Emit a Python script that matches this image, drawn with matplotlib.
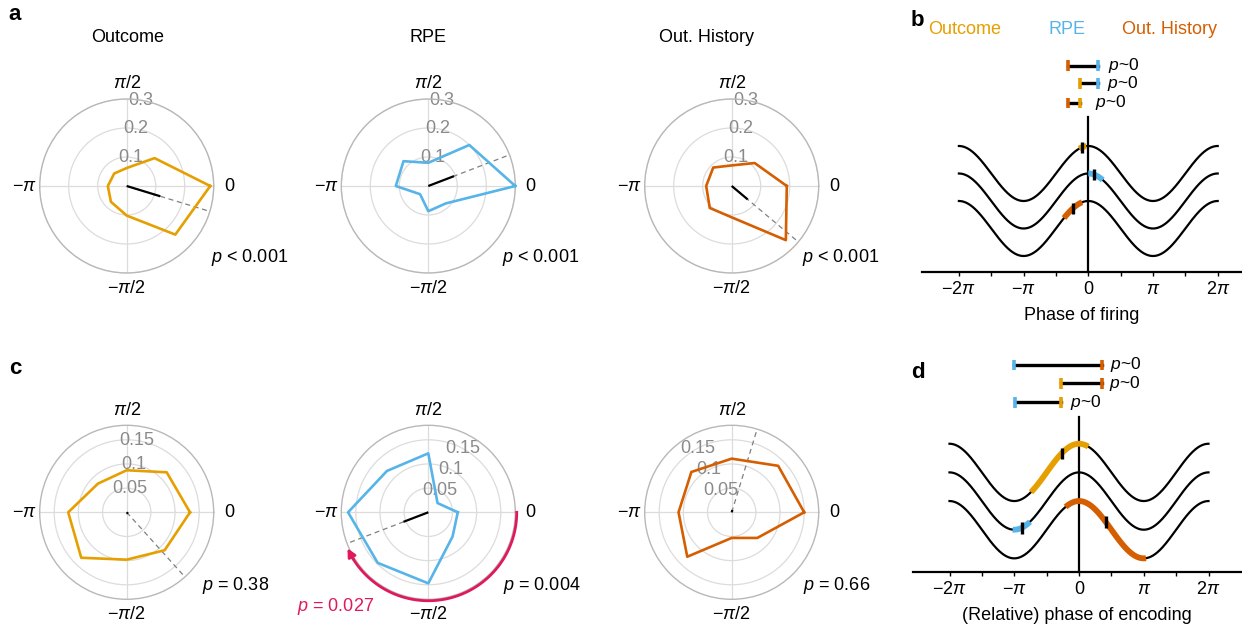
import numpy as np
import matplotlib.pyplot as plt

plt.rcParams['font.family'] = ['Liberation Sans', 'DejaVu Sans']
plt.rcParams['mathtext.fontset'] = 'custom'
plt.rcParams['mathtext.rm'] = 'Liberation Sans'
plt.rcParams['mathtext.it'] = 'Liberation Sans:italic'
plt.rcParams['mathtext.bf'] = 'Liberation Sans:bold'

W, H = 1242, 625
C_OUT, C_RPE, C_HIST, C_RED = '#E69F00', '#56B4E9', '#D55E00', '#E0195A'

# ---------------- data ----------------
bin_deg = [0, 45, 90, 135, 180, 225, 270, 315]

a_outcome = [0.288, 0.136, 0.062, 0.061, 0.065, 0.077, 0.102, 0.237]
a_rpe = [0.300, 0.200, 0.080, 0.121, 0.112, 0.040, 0.087, 0.085]
a_hist = [0.190, 0.112, 0.071, 0.090, 0.088, 0.107, 0.108, 0.264]
c_outcome = [0.131, 0.117, 0.087, 0.084, 0.121, 0.133, 0.098, 0.111]
c_rpe = [0.061, 0.027, 0.122, 0.121, 0.166, 0.148, 0.147, 0.071]
c_hist = [0.150, 0.136, 0.111, 0.118, 0.110, 0.130, 0.053, 0.075]

# mean vectors (angle in degrees, length)
a_mean = [(-17, 0.121), (21, 0.095), (-40, 0.072)]
c_mean = [(-48, 0.004), (-159, 0.055), (73, 0.005)]

a_rticks = [0.1, 0.2, 0.3]
a_rlabels = ['0.1', '0.2', '0.3']
c_rticks = [0.05, 0.1, 0.15]
c_rlabels = ['0.05', '0.1', '0.15']

theta_labels = ['0', r'$\pi$/2', '\u2212$\\pi$', '\u2212$\\pi$/2']
a_pvals = ['$p$ < 0.001', '$p$ < 0.001', '$p$ < 0.001']
c_pvals = ['$p$ = 0.38', '$p$ = 0.004', '$p$ = 0.66']
rpe_shift_p = '$p$ = 0.027'
rpe_shift_deg = [0, -156]

series_names = ['Outcome', 'RPE', 'Out. History']

# panel b: coloured segment ranges on each wave (rad), preferred phase ticks, comparison bars
b_segments = [(-0.44, -0.10), (0.0, 0.70), (-1.18, -0.30)]
b_phase = [-0.32, 0.28, -0.73]
b_bars = [(-0.97, 0.49), (-0.40, 0.49), (-0.97, -0.40)]
b_bar_cols = [(C_HIST, C_RPE), (C_OUT, C_RPE), (C_HIST, C_OUT)]
b_bar_y = [5.92, 5.28, 4.57]
b_ptext_x = [0.96, 0.89, 0.33]

# panel d
d_segments = [(-2.33, 0.45), (-3.22, -2.38), (-0.65, 3.25)]
d_phase = [-0.84, -2.78, 1.30]
d_bars = [(-3.14, 1.13), (-0.89, 1.13), (-3.11, -0.89)]
d_bar_cols = [(C_RPE, C_HIST), (C_OUT, C_HIST), (C_RPE, C_OUT)]
d_bar_y = [5.75, 5.11, 4.45]
d_ptext_x = [1.50, 1.47, -0.44]

wave_offsets = [2, 1, 0]
wave_cols = [C_OUT, C_RPE, C_HIST]

fig = plt.figure(figsize=(W / 100, H / 100), dpi=100)


def ft(x, y, s, **kw):
    return fig.text(x / W, 1 - y / H, s, **kw)


def polar_panel(cx, cy, vals, color, rmax, rticks, rlabels, rlabpos, mean):
    R = 87
    ax = fig.add_axes([(cx - R) / W, 1 - (cy + R) / H, 2 * R / W, 2 * R / H],
                      projection='polar')
    th = np.deg2rad(bin_deg + [bin_deg[0]])
    r = list(vals) + [vals[0]]
    ax.set_ylim(0, rmax)
    ax.set_yticks(rticks)
    ax.set_yticklabels(rlabels, ha='center', va='center')
    ax.set_rlabel_position(rlabpos)
    ax.tick_params(axis='y', labelcolor='#8a8a8a', labelsize=13, length=0, pad=0)
    ax.set_xticks(np.deg2rad([0, 90, 180, 270]))
    ax.set_xticklabels(theta_labels)
    ax.tick_params(axis='x', labelsize=13, pad=4, length=0)
    ax.grid(True, color='#dcdcdc', lw=0.9)
    ax.spines['polar'].set_color('#b8b8b8')
    ax.spines['polar'].set_linewidth(1.0)
    m = np.deg2rad(mean[0])
    ax.plot([m, m], [0, rmax], color='#808080', lw=0.9, ls=(0, (4, 3)), zorder=2)
    ax.plot(th, r, color=color, lw=1.9, zorder=3, clip_on=False)
    ax.plot([m, m], [0, mean[1]], color='k', lw=1.6, zorder=4, solid_capstyle='butt')
    return ax


cols = [C_OUT, C_RPE, C_HIST]
cxs = [126.7, 428.3, 731.7]
for i, vals in enumerate([a_outcome, a_rpe, a_hist]):
    polar_panel(cxs[i], 186, vals, cols[i], 0.3, a_rticks, a_rlabels, 81, a_mean[i])

c_labpos = [82, 62, 118]
c_axes = []
for i, vals in enumerate([c_outcome, c_rpe, c_hist]):
    c_axes.append(polar_panel(cxs[i], 512.3, vals, cols[i], 0.18, c_rticks, c_rlabels,
                              c_labpos[i], c_mean[i]))

# red arc on RPE (c)
axr = c_axes[1]
ang = np.deg2rad(np.linspace(rpe_shift_deg[0], rpe_shift_deg[1] + 6, 100))
axr.plot(ang, np.full_like(ang, 0.183), color=C_RED, lw=2, clip_on=False, zorder=5)
axr.annotate('', xy=(np.deg2rad(rpe_shift_deg[1]), 0.183),
             xytext=(np.deg2rad(rpe_shift_deg[1] + 8), 0.183),
             arrowprops=dict(arrowstyle='-|>', color=C_RED, lw=2, mutation_scale=12,
                             shrinkA=0, shrinkB=0),
             annotation_clip=False, zorder=5)

# titles & texts
title_x = [128, 428, 706.7]
for x, s in zip(title_x, series_names):
    ft(x, 37, s, ha='center', va='center', fontsize=13)
for x, s in zip([250, 541, 841], a_pvals):
    ft(x, 257, s, ha='center', va='center', fontsize=13)
for x, s in zip([236, 541.7, 836.7], c_pvals):
    ft(x, 585, s, ha='center', va='center', fontsize=13)
ft(336, 606.7, rpe_shift_p, ha='center', va='center', fontsize=13, color=C_RED)

for x, y, s in [(15, 15, 'a'), (917, 20, 'b'), (15, 368, 'c'), (918, 373, 'd')]:
    ft(x, y, s, ha='center', va='center', fontsize=16, fontweight='bold')

# panel b header labels
ft(928, 30, 'Outcome', ha='left', va='center', fontsize=13, color=C_OUT)
ft(1066.7, 30, 'RPE', ha='center', va='center', fontsize=13, color=C_RPE)
ft(1216.7, 30, 'Out. History', ha='right', va='center', fontsize=13, color=C_HIST)


def wave_panel(left_px, bottom_px, top_px, zero_px, pi_px, y0_px, unit_px,
               segs, phases, bars, bar_cols, bar_y, ptx, xlabel):
    ax = fig.add_axes([left_px / W, 1 - bottom_px / H, (W - left_px) / W,
                       (bottom_px - top_px) / H])
    ax.set_xlim((left_px - zero_px) / pi_px * np.pi, (W - zero_px) / pi_px * np.pi)
    ax.set_ylim((y0_px - bottom_px) / unit_px, (y0_px - top_px) / unit_px)
    x = np.linspace(-2 * np.pi, 2 * np.pi, 600)
    for off in wave_offsets:
        ax.plot(x, np.cos(x) + off, color='k', lw=1.6, zorder=2)
    for (a, b), off, c in zip(segs, wave_offsets, wave_cols):
        xs = np.linspace(a, b, 100)
        ax.plot(xs, np.cos(xs) + off, color=c, lw=4.2, solid_capstyle='butt', zorder=3)
    for t, off in zip(phases, wave_offsets):
        yc = np.cos(t) + off
        ax.plot([t, t], [yc - 0.2, yc + 0.2], color='k', lw=2.4, zorder=4,
                solid_capstyle='butt')
    for (xl, xr), (cl, cr), y, px in zip(bars, bar_cols, bar_y, ptx):
        ax.plot([xl, xr], [y, y], color='k', lw=2.4, clip_on=False, zorder=3)
        ax.plot([xl, xl], [y - 0.19, y + 0.19], color=cl, lw=2.6, clip_on=False,
                zorder=4, solid_capstyle='butt')
        ax.plot([xr, xr], [y - 0.19, y + 0.19], color=cr, lw=2.6, clip_on=False,
                zorder=4, solid_capstyle='butt')
        ax.text(px, y, '$p$~0', ha='left', va='center', fontsize=12.5, clip_on=False)
    for s in ['top', 'right']:
        ax.spines[s].set_visible(False)
    ax.spines['left'].set_position(('data', 0))
    ax.spines['left'].set_linewidth(1.6)
    ax.spines['bottom'].set_linewidth(1.6)
    ax.set_yticks([])
    ax.set_xticks(np.pi * np.array([-2, -1, 0, 1, 2]))
    ax.set_xticklabels(['\u22122$\\pi$', '\u2212$\\pi$', '0', '$\\pi$', '2$\\pi$'])
    ax.set_xticks(np.pi * np.array([-1.5, -0.5, 0.5, 1.5]), minor=True)
    ax.tick_params(axis='x', which='both', length=3, width=1, direction='out',
                   labelsize=13, pad=4)
    ax.set_xlabel(xlabel, fontsize=13, labelpad=6)
    ax.patch.set_alpha(0)
    return ax


wave_panel(921.7, 271.7, 116.7, 1088.3, 64.7, 228.5, 27.5,
           b_segments, b_phase, b_bars, b_bar_cols, b_bar_y, b_ptext_x, 'Phase of firing')
wave_panel(912.7, 571.7, 416.7, 1079.0, 64.75, 529.7, 28.65,
           d_segments, d_phase, d_bars, d_bar_cols, d_bar_y, d_ptext_x,
           '(Relative) phase of encoding')

fig.savefig('out.png', dpi=100)
